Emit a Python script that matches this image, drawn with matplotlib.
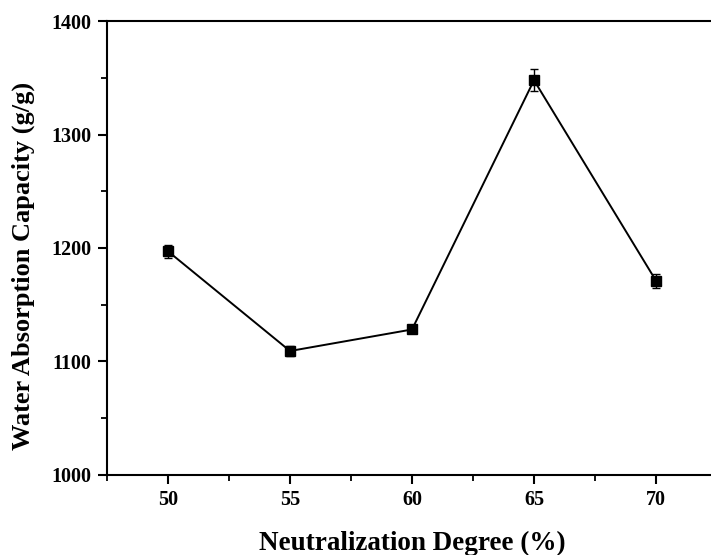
import matplotlib
matplotlib.use('Agg')
import matplotlib.pyplot as plt
from matplotlib.ticker import MultipleLocator

# data
degree = [50, 55, 60, 65, 70]
capacity = [1197, 1109, 1128, 1348, 1171]
error = [6, 4, 3, 9.5, 6]

plt.rcParams['font.family'] = ['Liberation Serif', 'DejaVu Serif']
plt.rcParams['font.weight'] = 'bold'

fig = plt.figure(figsize=(7.11, 5.55), dpi=100)
ax = fig.add_axes([107 / 711, 80.5 / 555, 610 / 711, 453.2 / 555])

ax.errorbar(degree, capacity, yerr=error, color='black', marker='s',
            markersize=7.5, linewidth=1.4, capsize=3, elinewidth=1,
            capthick=1)

ax.set_xlim(47.5, 72.5)
ax.set_ylim(1000, 1400)
ax.xaxis.set_major_locator(MultipleLocator(5))
ax.xaxis.set_minor_locator(MultipleLocator(2.5))
ax.yaxis.set_major_locator(MultipleLocator(100))
ax.yaxis.set_minor_locator(MultipleLocator(50))

for s in ax.spines.values():
    s.set_linewidth(1.5)
ax.tick_params(which='major', direction='out', length=6.5, width=1.5,
               labelsize=14.5, pad=5)
ax.tick_params(which='minor', direction='out', length=4.3, width=1.3)
for lab in ax.get_xticklabels() + ax.get_yticklabels():
    lab.set_fontweight('bold')

ax.set_xlabel('Neutralization Degree (%)', fontsize=19.5, fontweight='bold')
ax.set_ylabel('Water Absorption Capacity (g/g)', fontsize=19,
              fontweight='bold')
ax.xaxis.set_label_coords(0.5, -(550 - 474.5) / 453.2)
ax.xaxis.label.set_va('baseline')
ax.yaxis.set_label_coords(-(107 - 23) / 610, 0.46)
ax.yaxis.label.set_va('center')

fig.savefig('out.png', dpi=100)
